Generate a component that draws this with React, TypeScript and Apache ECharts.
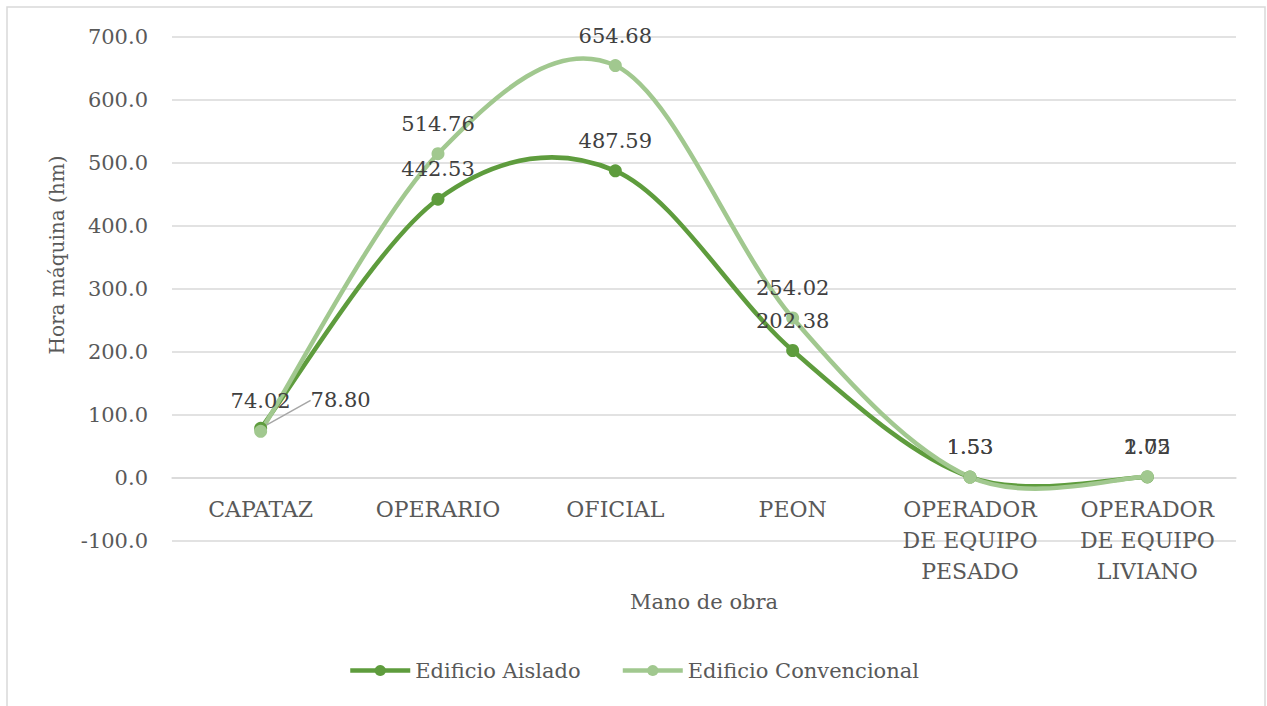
import React, { useEffect, useRef } from "react";
import * as echarts from "echarts";

const categories = [
  "CAPATAZ",
  "OPERARIO",
  "OFICIAL",
  "PEON",
  "OPERADOR\nDE EQUIPO\nPESADO",
  "OPERADOR\nDE EQUIPO\nLIVIANO",
];
const aislado = [78.8, 442.53, 487.59, 202.38, 1.53, 1.75];
const convencional = [74.02, 514.76, 654.68, 254.02, 1.53, 2.02];
const seriesNames = ["Edificio Aislado", "Edificio Convencional"];
const yMin = -100;
const yMax = 700;
const yInterval = 100;

const DARK = "#5E9C3D";
const LIGHT = "#A1C88F";
const FONT = "DejaVu Serif";
const FS = 21;

function curveRenderer(values: number[], color: string) {
  return (params: any, api: any) => {
    const i = params.dataIndex;
    const n = values.length;
    if (i >= n - 1) return { type: "group", children: [] };
    const p = (k: number) => {
      const kk = Math.max(0, Math.min(n - 1, k));
      return api.coord([kk, values[kk]]);
    };
    const p0 = p(i - 1);
    const p1 = p(i);
    const p2 = p(i + 1);
    const p3 = p(i + 2);
    return {
      type: "bezierCurve",
      shape: {
        x1: p1[0],
        y1: p1[1],
        x2: p2[0],
        y2: p2[1],
        cpx1: p1[0] + (p2[0] - p0[0]) / 6,
        cpy1: p1[1] + (p2[1] - p0[1]) / 6,
        cpx2: p2[0] - (p3[0] - p1[0]) / 6,
        cpy2: p2[1] - (p3[1] - p1[1]) / 6,
      },
      style: { stroke: color, lineWidth: 4.5, fill: "none", lineCap: "round" },
    };
  };
}

export default function App() {
  const ref = useRef<HTMLDivElement>(null);
  useEffect(() => {
    if (!ref.current) return;
    const chart = echarts.init(ref.current, undefined, { renderer: "svg" });
    const labelStyle = {
      show: true,
      position: "top",
      distance: 13,
      fontFamily: FONT,
      fontSize: FS,
      color: "#404040",
      formatter: (p: any) => Number(p.value).toFixed(2),
    };
    chart.setOption({
      animation: false,
      backgroundColor: "#ffffff",
      textStyle: { fontFamily: FONT },
      graphic: [
        {
          type: "rect",
          shape: { x: 7, y: 7, width: 1258, height: 720 },
          style: { fill: "none", stroke: "#d9d9d9", lineWidth: 1.5 },
          silent: true,
        },
        {
          type: "text",
          x: 57,
          y: 255,
          rotation: Math.PI / 2,
          style: {
            text: "Hora máquina (hm)",
            fontFamily: FONT,
            fontSize: 20,
            fill: "#595959",
            align: "center",
            verticalAlign: "middle",
          },
        },
      ],
      grid: { left: 172, right: 31, top: 37, bottom: 165, containLabel: false },
      legend: {
        top: 655,
        left: "center",
        itemWidth: 60,
        itemHeight: 14,
        itemGap: 40,
        textStyle: { fontFamily: FONT, fontSize: FS, color: "#595959" },
        data: [
          { name: seriesNames[0], lineStyle: { color: DARK, width: 4.5, opacity: 1 } },
          { name: seriesNames[1], lineStyle: { color: LIGHT, width: 4.5, opacity: 1 } },
        ],
      },
      xAxis: {
        type: "category",
        data: categories,
        boundaryGap: true,
        name: "Mano de obra",
        nameLocation: "middle",
        nameGap: 50,
        nameTextStyle: { fontFamily: FONT, fontSize: FS, color: "#595959" },
        axisLine: { onZero: true, lineStyle: { color: "#d9d9d9", width: 1.5 } },
        axisTick: { show: false },
        axisLabel: {
          interval: 0,
          margin: -47,
          fontFamily: FONT,
          fontSize: 22,
          lineHeight: 31,
          color: "#595959",
        },
      },
      yAxis: {
        type: "value",
        min: yMin,
        max: yMax,
        interval: yInterval,
        axisLine: { show: false },
        axisTick: { show: false },
        axisLabel: {
          margin: 24,
          fontFamily: FONT,
          fontSize: FS,
          color: "#595959",
          formatter: (v: number) => v.toFixed(1),
        },
        splitLine: { lineStyle: { color: "#d9d9d9", width: 1.5 } },
      },
      series: [
        {
          type: "custom",
          name: "curveA",
          renderItem: curveRenderer(aislado, DARK),
          data: aislado.map((v, i) => [i, v]),
          encode: { x: 0, y: 1 },
          clip: false,
          silent: true,
          z: 1,
        },
        {
          type: "custom",
          name: "curveC",
          renderItem: curveRenderer(convencional, LIGHT),
          data: convencional.map((v, i) => [i, v]),
          encode: { x: 0, y: 1 },
          clip: false,
          silent: true,
          z: 1,
        },
        {
          type: "line",
          name: seriesNames[0],
          data: aislado.map((v, i) =>
            i === 0
              ? { value: v, labelLine: { show: true, lineStyle: { color: "#a6a6a6", width: 1.5 } } }
              : v
          ),
          symbol: "circle",
          symbolSize: 13,
          itemStyle: { color: DARK },
          lineStyle: { color: DARK, width: 4.5, opacity: 0 },
          label: labelStyle,
          labelLayout: (params: any) =>
            params.dataIndex === 0 ? { dx: 80, dy: 2 } : {},
          z: 3,
        },
        {
          type: "line",
          name: seriesNames[1],
          data: convencional,
          symbol: "circle",
          symbolSize: 13,
          itemStyle: { color: LIGHT },
          lineStyle: { color: LIGHT, width: 4.5, opacity: 0 },
          label: labelStyle,
          z: 3,
        },
      ],
    });
    return () => chart.dispose();
  }, []);
  return (
    <div
      ref={ref}
      style={{ position: "fixed", left: 0, top: 0, width: 1267, height: 706 }}
    />
  );
}
